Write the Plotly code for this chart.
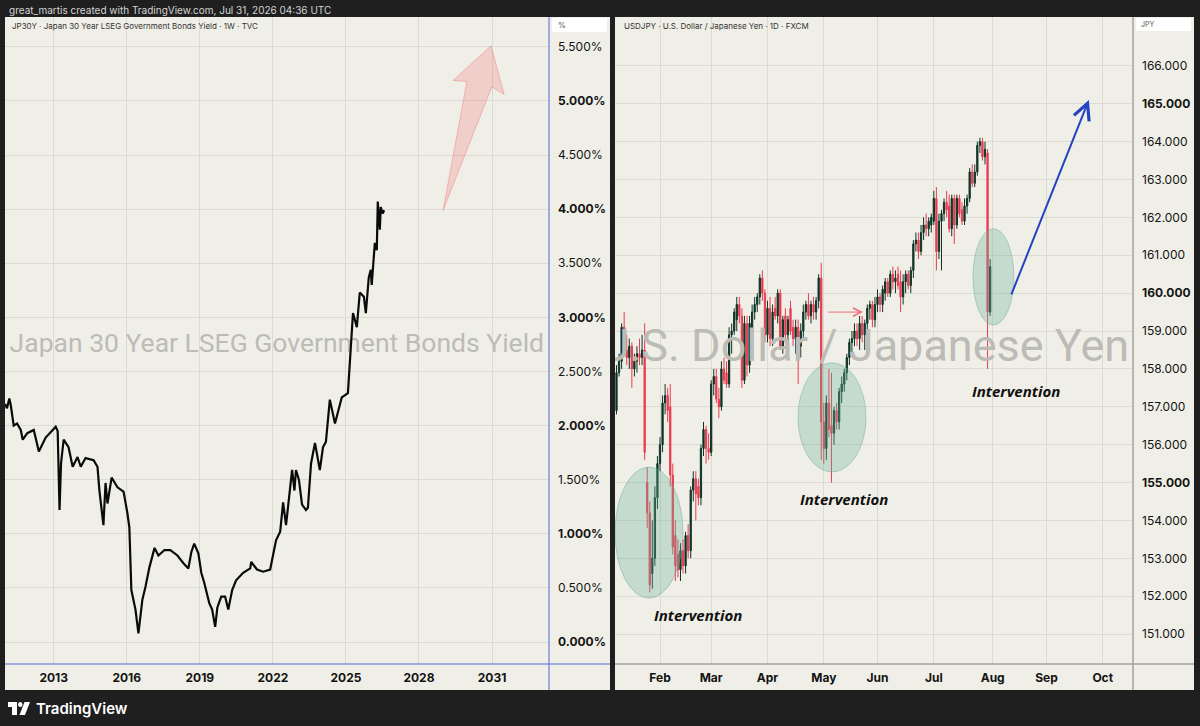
import pandas as pd
import plotly.graph_objects as go

W, H = 1200, 726

# JP30Y weekly yield, % (left panel)
jp_dates = [
    "2011-01-03", "2011-01-31", "2011-03-07", "2011-03-28", "2011-05-12", "2011-07-01",
    "2011-08-25", "2011-09-24", "2011-12-01", "2012-03-07", "2012-05-23", "2012-06-20",
    "2012-09-02", "2012-12-17", "2013-01-30", "2013-03-01", "2013-03-29", "2013-04-20",
    "2013-05-30", "2013-08-11", "2013-10-12", "2013-12-24", "2014-02-10", "2014-04-23",
    "2014-08-22", "2014-10-19", "2014-11-17", "2015-01-16", "2015-02-17", "2015-03-18",
    "2015-05-19", "2015-08-15", "2015-11-14", "2016-01-11", "2016-02-09", "2016-03-10",
    "2016-05-11", "2016-06-24", "2016-08-22", "2016-10-08", "2016-12-06", "2017-02-21",
    "2017-04-20", "2017-07-20", "2017-10-16", "2018-01-30", "2018-04-27", "2018-07-13",
    "2018-08-26", "2018-10-09", "2018-12-10", "2019-01-23", "2019-03-07", "2019-05-23",
    "2019-07-05", "2019-08-19", "2019-09-21", "2019-11-18", "2020-01-15", "2020-03-03",
    "2020-04-30", "2020-06-28", "2020-10-12", "2021-01-26", "2021-02-10", "2021-05-08",
    "2021-08-07", "2021-11-21", "2022-01-04", "2022-02-17", "2022-04-20", "2022-06-03",
    "2022-07-17", "2022-09-13", "2022-10-16", "2022-11-20", "2022-12-13", "2023-01-26",
    "2023-03-14", "2023-05-12", "2023-06-10", "2023-07-27", "2023-09-24", "2023-12-06",
    "2024-01-22", "2024-03-06", "2024-04-04", "2024-05-04", "2024-07-20", "2024-10-30",
    "2025-01-30", "2025-02-28", "2025-04-16", "2025-06-13", "2025-07-27", "2025-09-27",
    "2025-10-26", "2025-12-09", "2026-01-08", "2026-01-22", "2026-03-10", "2026-04-08",
    "2026-04-23", "2026-05-23", "2026-06-07", "2026-07-06", "2026-07-27",
]
jp_yield = [
    2.20, 2.16, 2.25, 2.19, 2.00, 2.02,
    1.96, 1.87, 1.93, 1.96, 1.76, 1.80,
    1.89, 1.96, 1.99, 1.95, 1.22, 1.65,
    1.87, 1.80, 1.62, 1.71, 1.62, 1.70,
    1.68, 1.62, 1.40, 1.08, 1.47, 1.28,
    1.52, 1.43, 1.39, 1.19, 1.06, 0.48,
    0.30, 0.08, 0.39, 0.51, 0.69, 0.87,
    0.80, 0.85, 0.85, 0.80, 0.73, 0.68,
    0.83, 0.91, 0.82, 0.64, 0.55, 0.36,
    0.30, 0.14, 0.32, 0.42, 0.42, 0.30,
    0.48, 0.57, 0.64, 0.68, 0.74, 0.67,
    0.65, 0.67, 0.82, 0.94, 1.02, 1.29,
    1.08, 1.40, 1.59, 1.40, 1.59, 1.50,
    1.27, 1.22, 1.24, 1.65, 1.84, 1.59,
    1.80, 1.85, 2.02, 2.24, 2.02, 2.26,
    2.30, 2.59, 3.04, 2.91, 3.23, 3.19,
    3.04, 3.37, 3.44, 3.30, 3.69, 3.62,
    4.07, 3.81, 4.02, 3.96, 3.99,
]

jp_ticks = [0.0, 0.5, 1.0, 1.5, 2.0, 2.5, 3.0, 3.5, 4.0, 4.5, 5.0, 5.5]
jp_tick_text = ["<b>0.000%</b>", "0.500%", "<b>1.000%</b>", "1.500%", "<b>2.000%</b>", "2.500%",
                "<b>3.000%</b>", "3.500%", "<b>4.000%</b>", "4.500%", "<b>5.000%</b>", "5.500%"]
jp_years = ["2013-01-01", "2016-01-01", "2019-01-01", "2022-01-01", "2025-01-01", "2028-01-01", "2031-01-01"]
jp_year_text = ["<b>2013</b>", "<b>2016</b>", "<b>2019</b>", "<b>2022</b>", "<b>2025</b>", "<b>2028</b>", "<b>2031</b>"]

# USDJPY daily candles from 2026-01-08 (right panel)
fx_start = "2026-01-08"
fx_open = [
    # Jan
    156.9, 157.9, 158.2, 159.1, 158.5, 158.3, 158.6, 158.0, 158.2, 158.4, 158.3, 158.5,
    155.0, 154.2, 152.6, 153.0, 154.6,
    # Feb
    155.5, 156.0, 157.1, 157.3, 157.0, 155.2, 153.6, 153.1, 152.7, 153.2, 152.8, 153.6,
    153.2, 154.8, 155.1, 154.9, 154.6, 155.9, 156.4, 155.9,
    # Mar
    155.8, 157.6, 157.8, 157.2, 157.0, 158.0, 157.9, 157.6, 158.9, 159.0, 159.3, 159.7,
    159.4, 157.7, 159.2, 158.1, 159.0, 159.5, 159.7, 159.9, 160.4, 160.0,
    # Apr
    158.9, 159.6, 158.8, 159.6, 159.4, 160.0, 158.6, 159.4, 158.9, 159.6, 159.1, 158.8,
    159.1, 158.6, 159.0, 159.5, 159.7, 159.4, 159.7, 159.5, 159.8, 160.4,
    # May
    156.6, 155.9, 157.1, 156.5, 156.3, 156.9, 156.6, 157.4, 157.6, 157.9, 158.3, 158.7,
    158.8, 159.0, 158.8, 159.2, 158.9, 159.2, 159.6, 159.7, 159.3,
    # Jun
    159.7, 159.9, 159.7, 160.0, 160.3, 160.0, 160.5, 160.3, 160.5, 160.3, 159.9, 160.3,
    160.5, 160.2, 160.6, 161.3, 161.4, 161.1, 161.6, 161.8, 161.7, 161.8,
    # Jul
    161.9, 162.5, 161.1, 161.9, 162.1, 162.4, 162.3, 161.7, 162.5, 161.8, 162.5, 162.2,
    161.9, 162.3, 162.5, 163.2, 162.9, 163.2, 163.9, 164.0, 163.6, 163.7, 159.5,
]
fx_high = [
    158.1, 158.4, 159.2, 159.5, 158.9, 158.8, 158.7, 158.4, 158.6, 158.8, 158.9, 159.2,
    155.4, 154.5, 154.0, 154.9, 155.7,
    156.2, 157.3, 157.6, 157.5, 157.6, 155.5, 154.0, 153.5, 153.4, 153.5, 153.7, 153.9,
    154.9, 155.3, 155.3, 155.1, 156.0, 156.6, 156.5, 156.3,
    157.7, 158.0, 158.0, 157.5, 158.2, 158.3, 158.2, 159.1, 159.2, 159.6, 159.9, 159.9,
    159.6, 159.4, 159.4, 159.4, 159.7, 159.9, 160.0, 160.5, 160.6, 160.1,
    159.8, 159.9, 159.7, 159.9, 160.1, 160.1, 159.4, 159.6, 159.4, 159.8, 159.3, 159.3,
    159.3, 159.2, 159.7, 159.8, 160.0, 159.8, 159.9, 159.9, 160.5, 160.8,
    157.1, 157.3, 158.0, 157.9, 157.0, 157.1, 157.5, 157.8, 158.0, 158.4, 158.8, 159.0,
    159.2, 159.2, 159.4, 159.4, 159.3, 159.7, 159.8, 159.8, 159.9,
    160.1, 160.0, 160.2, 160.4, 160.4, 160.6, 160.7, 160.6, 160.7, 160.6, 160.5, 160.6,
    160.6, 160.7, 161.4, 161.6, 161.6, 161.8, 162.0, 162.1, 162.0, 162.1,
    162.7, 162.8, 162.1, 162.2, 162.5, 162.7, 162.6, 162.6, 162.6, 162.6, 162.6, 162.4,
    162.5, 162.6, 163.3, 163.4, 163.4, 164.0, 164.1, 164.1, 164.0, 163.8, 160.9,
]
fx_low = [
    156.8, 157.8, 158.0, 158.4, 158.1, 158.0, 157.5, 157.8, 157.9, 158.1, 158.1, 155.6,
    153.8, 152.1, 152.2, 152.8, 154.3,
    155.3, 155.8, 156.8, 156.6, 154.9, 153.1, 152.4, 152.5, 152.4, 152.6, 152.6, 153.0,
    153.0, 154.5, 154.0, 154.4, 154.4, 155.7, 155.5, 155.6,
    155.7, 157.3, 157.1, 156.7, 156.9, 157.6, 157.5, 157.5, 158.4, 158.9, 159.0, 159.2,
    157.5, 157.6, 157.8, 157.9, 158.8, 159.3, 159.5, 159.7, 159.8, 158.7,
    158.7, 158.6, 158.6, 159.3, 159.2, 158.5, 158.4, 158.7, 158.6, 158.9, 158.6, 158.4,
    157.6, 158.3, 158.8, 159.3, 159.3, 159.2, 159.3, 159.3, 159.6, 155.6,
    155.5, 155.6, 156.2, 155.0, 156.0, 156.4, 156.4, 157.1, 157.4, 157.7, 158.1, 158.4,
    158.6, 158.6, 158.5, 158.7, 158.5, 159.0, 159.3, 159.1, 159.1,
    159.5, 159.5, 159.5, 159.8, 159.9, 159.9, 160.1, 160.0, 160.1, 159.5, 159.7, 160.0,
    160.1, 160.0, 160.4, 161.1, 160.9, 161.0, 161.4, 161.5, 161.5, 161.6,
    161.8, 160.6, 160.9, 160.6, 161.9, 162.0, 161.6, 161.5, 161.3, 161.7, 162.0, 161.8,
    161.8, 162.1, 162.4, 162.8, 162.8, 163.1, 163.7, 163.5, 163.4, 158.0, 159.4,
]
fx_close = [
    157.9, 158.2, 159.1, 158.5, 158.3, 158.6, 158.0, 158.2, 158.4, 158.3, 158.5, 155.8,
    154.2, 152.3, 153.0, 154.6, 155.5,
    156.0, 157.1, 157.3, 156.9, 155.2, 153.3, 152.8, 152.7, 153.2, 152.8, 153.6, 153.2,
    154.8, 155.1, 154.7, 154.6, 155.9, 156.4, 155.9, 155.8,
    157.6, 157.8, 157.2, 157.0, 158.0, 157.7, 157.6, 158.9, 159.0, 159.5, 159.7, 159.4,
    157.7, 159.2, 158.1, 159.2, 159.5, 159.7, 159.9, 160.4, 160.0, 158.9,
    159.6, 158.8, 159.5, 159.4, 160.0, 158.6, 159.3, 158.9, 159.3, 159.0, 158.8, 159.1,
    158.6, 159.0, 159.5, 159.7, 159.4, 159.7, 159.5, 159.8, 160.4, 156.6,
    155.9, 157.1, 156.4, 156.3, 156.9, 156.6, 157.4, 157.6, 157.9, 158.3, 158.7, 158.8,
    159.0, 158.8, 159.2, 158.9, 159.2, 159.6, 159.7, 159.3, 159.7,
    159.9, 159.7, 160.1, 160.3, 160.0, 160.5, 160.3, 160.4, 160.2, 159.9, 160.3, 160.5,
    160.2, 160.6, 161.3, 161.4, 161.1, 161.6, 161.8, 161.7, 161.9, 162.0,
    162.5, 161.1, 161.9, 162.1, 162.4, 162.2, 161.7, 162.5, 161.8, 162.5, 162.1, 161.9,
    162.3, 162.5, 163.2, 162.9, 163.2, 163.9, 164.0, 163.6, 163.8, 159.5, 160.7,
]
fx_dates = pd.bdate_range(fx_start, periods=len(fx_close))

fx_ticks = list(range(151, 167))
fx_tick_text = ["151.000", "152.000", "153.000", "154.000", "<b>155.000</b>", "156.000", "157.000",
                "158.000", "159.000", "<b>160.000</b>", "161.000", "162.000", "163.000", "164.000",
                "<b>165.000</b>", "166.000"]
fx_months = ["2026-02-02", "2026-03-02", "2026-04-01", "2026-05-01", "2026-06-01",
             "2026-07-01", "2026-08-03", "2026-09-01", "2026-10-01"]
fx_month_text = ["<b>Feb</b>", "<b>Mar</b>", "<b>Apr</b>", "<b>May</b>", "<b>Jun</b>",
                 "<b>Jul</b>", "<b>Aug</b>", "<b>Sep</b>", "<b>Oct</b>"]

CREAM = "#f0efe7"
GRID = "#dcdbd3"
FONT = "Inter, Roboto, sans-serif"


def px(x):
    return x / W


def py(y):
    return 1 - y / H


fig = go.Figure()

# watermarks (drawn first so they sit under the data)
fig.add_trace(go.Scatter(
    x=["2022-03-01"], y=[2.745], mode="text",
    text=["Japan 30 Year LSEG Government Bonds Yield"],
    textfont=dict(family="Roboto, sans-serif", size=26.5, color="#bcbbb5"),
    xaxis="x", yaxis="y", hoverinfo="skip"))
fig.add_trace(go.Scatter(
    x=["2026-05-25"], y=[158.5], mode="text",
    text=["U.S. Dollar / Japanese Yen"],
    textfont=dict(family="Roboto, sans-serif", size=45, color="#bcbbb5"),
    xaxis="x2", yaxis="y2", hoverinfo="skip"))

fig.add_trace(go.Scatter(
    x=jp_dates, y=jp_yield, mode="lines",
    line=dict(color="#0a0a0a", width=2.2),
    xaxis="x", yaxis="y", hoverinfo="skip"))

# red "higher yields" arrow drawing
fig.add_trace(go.Scatter(
    x=["2028-12-28", "2029-12-20", "2029-05-27", "2030-12-17", "2031-07-02", "2030-12-28", "2028-12-28"],
    y=[3.99, 5.18, 5.19, 5.51, 5.06, 5.13, 3.99],
    mode="lines", fill="toself",
    fillcolor="rgba(240,90,100,0.22)", line=dict(color="rgba(240,90,100,0.35)", width=1),
    xaxis="x", yaxis="y", hoverinfo="skip"))

fig.add_trace(go.Candlestick(
    x=fx_dates, open=fx_open, high=fx_high, low=fx_low, close=fx_close,
    increasing=dict(line=dict(color="#0d3427", width=1), fillcolor="#0d3427"),
    decreasing=dict(line=dict(color="#ea3a50", width=1), fillcolor="#ea3a50"),
    whiskerwidth=0, xaxis="x2", yaxis="y2", hoverinfo="skip"))

shapes = [
    # panel backgrounds
    dict(type="rect", xref="paper", yref="paper", x0=px(5), x1=px(610), y0=py(690), y1=py(17),
         fillcolor=CREAM, line_width=0, layer="below"),
    dict(type="rect", xref="paper", yref="paper", x0=px(615), x1=px(1194), y0=py(690), y1=py(17),
         fillcolor=CREAM, line_width=0, layer="below"),
    # scale separators
    dict(type="line", xref="paper", yref="paper", x0=px(549), x1=px(549), y0=py(690), y1=py(17),
         line=dict(color="#5467d8", width=1)),
    dict(type="line", xref="paper", yref="paper", x0=px(5), x1=px(610), y0=py(664), y1=py(664),
         line=dict(color="#5467d8", width=1)),
    dict(type="line", xref="paper", yref="paper", x0=px(1133), x1=px(1133), y0=py(690), y1=py(17),
         line=dict(color="#a3a29c", width=1.5)),
    dict(type="line", xref="paper", yref="paper", x0=px(615), x1=px(1194), y0=py(664), y1=py(664),
         line=dict(color="#a3a29c", width=1.5)),
    # unit boxes
    dict(type="rect", xref="paper", yref="paper", x0=px(552), x1=px(607), y0=py(32), y1=py(18),
         fillcolor="white", line_width=0),
    dict(type="rect", xref="paper", yref="paper", x0=px(1136), x1=px(1191), y0=py(31), y1=py(18),
         fillcolor="white", line_width=0),
    # intervention ellipses
    dict(type="circle", xref="x2", yref="y2", x0="2026-01-07 10:00", x1="2026-02-13 00:00",
         y0=151.95, y1=155.41, fillcolor="rgba(110,180,155,0.33)",
         line=dict(color="rgba(100,170,145,0.45)", width=1)),
    dict(type="circle", xref="x2", yref="y2", x0="2026-04-16 22:00", x1="2026-05-25 12:00",
         y0=155.28, y1=158.16, fillcolor="rgba(110,180,155,0.33)",
         line=dict(color="rgba(100,170,145,0.45)", width=1)),
    dict(type="circle", xref="x2", yref="y2", x0="2026-07-22 07:00", x1="2026-08-13 07:00",
         y0=159.16, y1=161.70, fillcolor="rgba(110,180,155,0.33)",
         line=dict(color="rgba(100,170,145,0.45)", width=1)),
    # TradingView logo mark
    dict(type="rect", xref="paper", yref="paper", x0=px(8), x1=px(17), y0=py(707), y1=py(702),
         fillcolor="white", line_width=0),
    dict(type="rect", xref="paper", yref="paper", x0=px(12), x1=px(17), y0=py(715), y1=py(702),
         fillcolor="white", line_width=0),
    dict(type="circle", xref="paper", yref="paper", x0=px(18), x1=px(22.5), y0=py(707), y1=py(702),
         fillcolor="white", line_width=0),
    dict(type="path", xref="paper", yref="paper",
         path=f"M{px(24.5)},{py(702)} L{px(30)},{py(702)} L{px(25)},{py(715)} L{px(19.5)},{py(715)} Z",
         fillcolor="white", line_width=0),
]

annotations = [
    dict(x=px(7), y=py(10), xref="paper", yref="paper", xanchor="left", yanchor="middle",
         text="great_martis created with TradingView.com, Jul 31, 2026 04:36 UTC",
         showarrow=False, font=dict(family=FONT, size=10, color="#d4d4d4")),
    dict(x=px(10), y=py(26), xref="paper", yref="paper", xanchor="left", yanchor="middle",
         text="JP30Y · Japan 30 Year LSEG Government Bonds Yield · 1W · TVC",
         showarrow=False, font=dict(family=FONT, size=8, color="#333333")),
    dict(x=px(622), y=py(26), xref="paper", yref="paper", xanchor="left", yanchor="middle",
         text="USDJPY · U.S. Dollar / Japanese Yen · 1D · FXCM",
         showarrow=False, font=dict(family=FONT, size=8, color="#333333")),
    dict(x=px(556), y=py(25), xref="paper", yref="paper", xanchor="left", yanchor="middle",
         text="%", showarrow=False, font=dict(family=FONT, size=8, color="#555555")),
    dict(x=px(1139), y=py(25), xref="paper", yref="paper", xanchor="left", yanchor="middle",
         text="JPY", showarrow=False, font=dict(family=FONT, size=7, color="#555555")),
    dict(x=px(34), y=py(708), xref="paper", yref="paper", xanchor="left", yanchor="middle",
         text="TradingView", showarrow=False,
         font=dict(family=FONT, size=15, color="white", weight=600)),
    # intervention labels
    dict(x="2026-02-20 19:00", y=151.5, xref="x2", yref="y2", text="<b><i>Intervention</i></b>",
         showarrow=False, font=dict(family="Open Sans, sans-serif", size=15, color="#111111")),
    dict(x="2026-05-13", y=154.57, xref="x2", yref="y2", text="<b><i>Intervention</i></b>",
         showarrow=False, font=dict(family="Open Sans, sans-serif", size=15, color="#111111")),
    dict(x="2026-08-14", y=157.42, xref="x2", yref="y2", text="<b><i>Intervention</i></b>",
         showarrow=False, font=dict(family="Open Sans, sans-serif", size=15, color="#111111")),
    # blue projection arrow
    dict(x="2026-09-23 14:00", y=165.10, ax="2026-08-12 02:00", ay=159.93,
         xref="x2", yref="y2", axref="x2", ayref="y2", text="", showarrow=True,
         arrowhead=5, arrowsize=1.6, arrowwidth=2, arrowcolor="#2443c4"),
    # small red arrow
    dict(x="2026-05-22 07:00", y=159.5, ax="2026-05-04 05:00", ay=159.5,
         xref="x2", yref="y2", axref="x2", ayref="y2", text="", showarrow=True,
         arrowhead=5, arrowsize=1.6, arrowwidth=1, arrowcolor="#ef6b78"),
]

tick_font = dict(family=FONT, size=12, color="#131313")

fig.update_layout(
    width=W, height=H,
    margin=dict(l=0, r=0, t=0, b=0),
    paper_bgcolor="#1f1f1f",
    plot_bgcolor=CREAM,
    showlegend=False,
    hovermode=False,
    shapes=shapes,
    annotations=annotations,
    xaxis=dict(domain=[px(5), px(549)], anchor="y", type="date",
               range=["2011-01-01", "2033-05-04"],
               tickvals=jp_years, ticktext=jp_year_text, tickfont=tick_font,
               showgrid=True, gridcolor=GRID, gridwidth=1, zeroline=False,
               ticks="", ticklabelstandoff=5, rangeslider=dict(visible=False)),
    yaxis=dict(domain=[py(664), py(17)], anchor="x", side="right",
               range=[-0.203, 5.776], tickvals=jp_ticks, ticktext=jp_tick_text,
               tickfont=tick_font, showgrid=True, gridcolor=GRID, gridwidth=1,
               zeroline=False, ticks="", ticklabelstandoff=8),
    xaxis2=dict(domain=[px(615), px(1133)], anchor="y2", type="date",
                range=["2026-01-07 10:00", "2026-10-16 20:00"],
                rangebreaks=[dict(bounds=["sat", "mon"])],
                tickvals=fx_months, ticktext=fx_month_text, tickfont=tick_font,
                showgrid=True, gridcolor=GRID, gridwidth=1, zeroline=False,
                ticks="", ticklabelstandoff=5, rangeslider=dict(visible=False)),
    yaxis2=dict(domain=[py(664), py(17)], anchor="x2", side="right",
                range=[150.21, 167.29], tickvals=fx_ticks, ticktext=fx_tick_text,
                tickfont=tick_font, showgrid=True, gridcolor=GRID, gridwidth=1,
                zeroline=False, ticks="", ticklabelstandoff=8),
)

# the page's default body margin would push the 1200x726 figure off the window
fig.write_html("out.html", config={"displayModeBar": False},
               post_script="document.body.style.margin='0';"
                           "document.body.style.overflow='hidden';")
